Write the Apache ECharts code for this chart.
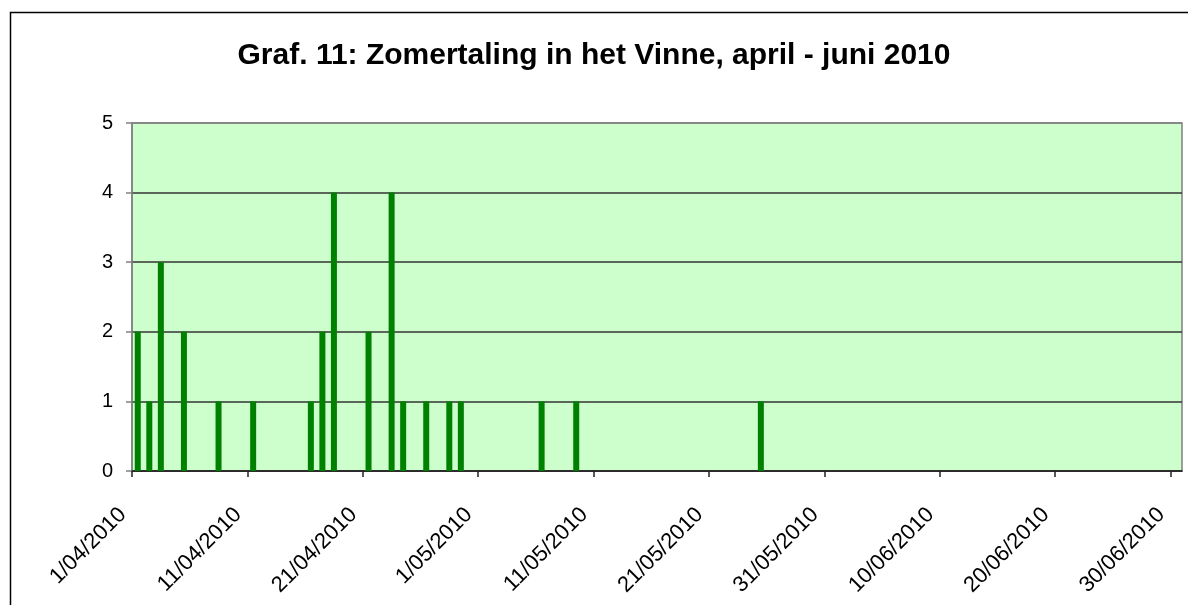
<!DOCTYPE html>
<html>
<head>
<meta charset="utf-8">
<script src="https://cdn.jsdelivr.net/npm/echarts@6/dist/echarts.min.js"></script>
<style>
  html, body { margin: 0; padding: 0; background: #fff; }
  #chart { width: 1188px; height: 605px; }
</style>
</head>
<body>
<div id="chart"></div>
<script>
// observation dates and counts (Zomertaling, het Vinne)
var obsDates = [
  "2010-04-01", "2010-04-02", "2010-04-03", "2010-04-05", "2010-04-08",
  "2010-04-11", "2010-04-16", "2010-04-17", "2010-04-18", "2010-04-21",
  "2010-04-23", "2010-04-24", "2010-04-26", "2010-04-28", "2010-04-29",
  "2010-05-06", "2010-05-09", "2010-05-25"
];
var counts = [2, 1, 3, 2, 1, 1, 1, 2, 4, 2, 4, 1, 1, 1, 1, 1, 1, 1];
var tickLabels = [
  "1/04/2010", "11/04/2010", "21/04/2010", "1/05/2010", "11/05/2010",
  "21/05/2010", "31/05/2010", "10/06/2010", "20/06/2010", "30/06/2010"
];
var startDate = "2010-04-01";

var DAY = 86400000;
var t0 = Date.parse(startDate);
// bar sits in the middle of its day slot
var seriesData = obsDates.map(function (d, i) {
  return [(Date.parse(d) - t0) / DAY + 0.5, counts[i]];
});
var tickValues = tickLabels.map(function (l, i) { return i * 10; });

var font = "'Liberation Sans', Arial, sans-serif";
var chart = echarts.init(document.getElementById("chart"));

chart.setOption({
  animation: false,
  backgroundColor: "#fff",
  title: {
    text: "Graf. 11: Zomertaling in het Vinne, april - juni 2010",
    left: "center",
    top: 36,
    textStyle: {
      fontFamily: font,
      fontSize: 30,
      fontWeight: "bold",
      color: "#000"
    }
  },
  graphic: [
    {
      type: "rect",
      shape: { x: 10.5, y: 12.5, width: 1300, height: 700 },
      style: { fill: "none", stroke: "#000", lineWidth: 1.5 },
      silent: true
    }
  ],
  grid: {
    left: 132,
    top: 123,
    width: 1050,
    height: 348,
    show: true,
    backgroundColor: "#CCFFCC",
    borderColor: "#808080",
    borderWidth: 1.5
  },
  xAxis: {
    type: "value",
    min: 0,
    max: 91,
    interval: 10,
    axisLine: { lineStyle: { color: "#222", width: 1.5 } },
    axisTick: {
      customValues: tickValues,
      length: 6,
      lineStyle: { color: "#222", width: 1.5 }
    },
    splitLine: { show: false },
    axisLabel: {
      customValues: tickValues,
      rotate: 45,
      margin: 31,
      padding: [0, 13, 0, 0],
      fontFamily: font,
      fontSize: 22,
      color: "#000",
      formatter: function (v) {
        return tickLabels[Math.round(v / 10)] || "";
      }
    }
  },
  yAxis: {
    type: "value",
    min: 0,
    max: 5,
    interval: 1,
    axisLine: { show: true, lineStyle: { color: "#808080", width: 1.5 } },
    axisTick: { show: true, length: 6, lineStyle: { color: "#808080", width: 1.5 } },
    splitLine: {
      lineStyle: {
        color: ["#333", "#333", "#333", "#333", "#333", "#808080"],
        width: 1.5
      }
    },
    axisLabel: {
      margin: 19,
      fontFamily: font,
      fontSize: 20,
      color: "#000"
    }
  },
  series: [
    {
      type: "bar",
      barWidth: 6,
      itemStyle: { color: "#008000" },
      data: seriesData
    }
  ]
});
</script>
</body>
</html>
